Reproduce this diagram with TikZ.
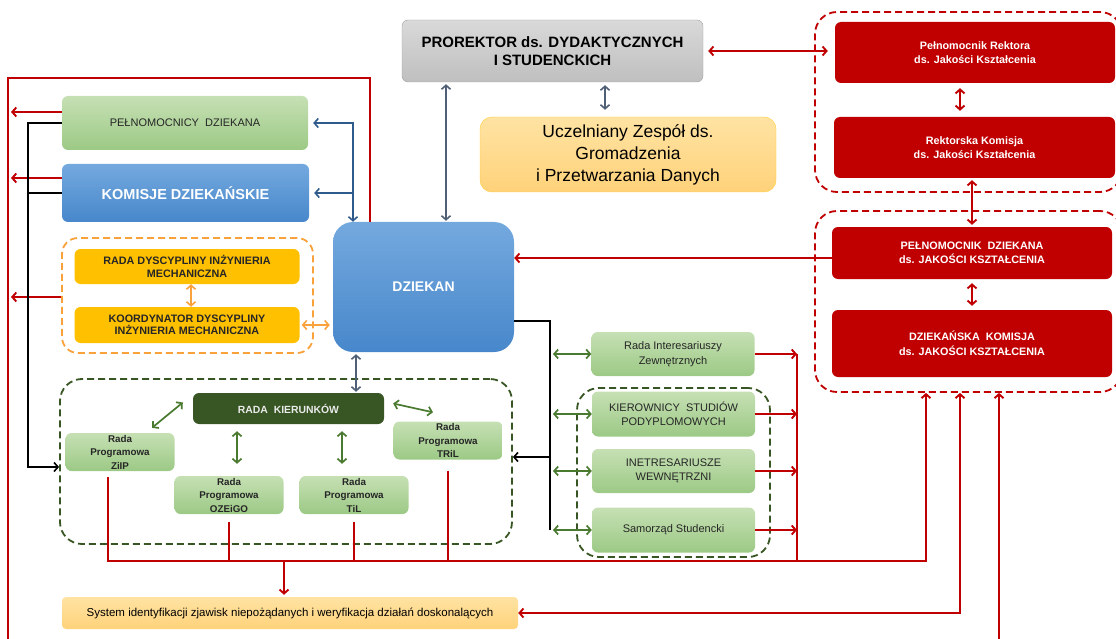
\documentclass[tikz,border=0pt]{standalone}
\usepackage{fontspec}
\setmainfont{Liberation Sans}
\usetikzlibrary{arrows.meta}

\definecolor{kred}{HTML}{C00000}
\definecolor{kblueT}{HTML}{74A9DE}
\definecolor{kblueB}{HTML}{4787CB}
\definecolor{kgreenT}{HTML}{C6E0B4}
\definecolor{kgreenB}{HTML}{9CC985}
\definecolor{kdgreen}{HTML}{375623}
\definecolor{kgrarr}{HTML}{4A7A30}
\definecolor{korange}{HTML}{FFC000}
\definecolor{kordash}{HTML}{F9A13A}
\definecolor{knavy}{HTML}{2E5B8C}
\definecolor{kslate}{HTML}{4F5F75}
\definecolor{kgrayT}{HTML}{D9D9D9}
\definecolor{kgrayB}{HTML}{BFBFBF}
\definecolor{kyelT}{HTML}{FFE3A3}
\definecolor{kyelB}{HTML}{FFD27A}

\tikzset{
  >={Straight Barb[length=4pt,width=9pt]},
  box/.style={rounded corners=6pt, align=center, inner sep=0pt},
  greenbox/.style={box, top color=kgreenT, bottom color=kgreenB, text=black!85},
  bluebox/.style={box, top color=kblueT, bottom color=kblueB, text=white},
  redbox/.style={box, fill=kred, text=white, font={\fontsize{10.8}{14.5}\selectfont\bfseries}},
  orbox/.style={box, fill=korange, text=black!85, font={\fontsize{10.8}{12.5}\selectfont\bfseries}},
  progbox/.style={greenbox, minimum width=109pt, minimum height=38pt, font={\fontsize{9.8}{13.5}\selectfont\bfseries}},
  sidebox/.style={greenbox, minimum width=163pt, minimum height=45pt, font={\fontsize{11}{14.5}\selectfont}},
  grp/.style={rounded corners=22pt, dash pattern=on 7pt off 4pt, line width=1.8pt},
  redln/.style={draw=kred, line width=1.9pt},
  blk/.style={draw=black, line width=1.6pt},
  grarr/.style={draw=kgrarr, line width=1.7pt},
  navy/.style={draw=knavy, line width=1.6pt},
  slate/.style={draw=kslate, line width=1.6pt},
  orarr/.style={draw=kordash, line width=1.6pt}
}

\begin{document}
\begin{tikzpicture}[x=1pt,y=-1pt]
\useasboundingbox (0,0) rectangle (1116,639);

\node[grp, draw=kred, minimum width=307pt, minimum height=180pt] (grpR) at (968.5,102) {};
\node[grp, draw=kred, minimum width=307pt, minimum height=181pt] (grpD) at (968.5,301.5) {};
\node[grp, draw=kordash, rounded corners=16pt, minimum width=251pt, minimum height=115pt] (grpO) at (187.5,295.5) {};
\node[grp, draw=kdgreen, minimum width=452pt, minimum height=165pt] (grpG) at (286,461.5) {};
\node[grp, draw=kdgreen, minimum width=193pt, minimum height=169pt] (grpS) at (673.5,472.5) {};

\node[box, top color=kgrayT, bottom color=kgrayB, draw=kgrayB!85!black, minimum width=301pt, minimum height=62pt,
  font={\fontsize{15}{18}\selectfont\bfseries}] (prorektor) at (552.5,51) {PROREKTOR ds. DYDAKTYCZNYCH\\I STUDENCKICH};
\node[box, top color=kyelT, bottom color=kyelB, draw=korange!80, rounded corners=12pt, minimum width=296pt, minimum height=75pt,
  font={\fontsize{17.5}{22}\selectfont}] (zespol) at (628,154.5) {Uczelniany Zespół ds.\\Gromadzenia\\i Przetwarzania Danych};

\node[redbox, minimum width=280pt, minimum height=61pt] (pelrek) at (975,52.5) {Pełnomocnik Rektora\\ds. Jakości Kształcenia};
\node[redbox, minimum width=281pt, minimum height=61pt] (rekkom) at (974.5,147.5) {Rektorska Komisja\\ds. Jakości Kształcenia};
\node[redbox, minimum width=280pt, minimum height=52pt] (pdz) at (972,253) {PEŁNOMOCNIK\ \ DZIEKANA\\ds. JAKOŚCI KSZTAŁCENIA};
\node[redbox, minimum width=280pt, minimum height=67pt] (dkom) at (972,343.5) {DZIEKAŃSKA\ \ KOMISJA\\ds. JAKOŚCI KSZTAŁCENIA};

\node[bluebox, rounded corners=20pt, minimum width=181pt, minimum height=130pt,
  font={\fontsize{14}{17}\selectfont\bfseries}] (dziekan) at (423.5,287) {DZIEKAN};
\node[greenbox, minimum width=246pt, minimum height=54pt, font={\fontsize{11}{13}\selectfont}] (peld) at (185,123) {PEŁNOMOCNICY\ \ DZIEKANA};
\node[bluebox, minimum width=247pt, minimum height=58pt, font={\fontsize{14.5}{17}\selectfont\bfseries}] (komisje) at (185.5,193) {KOMISJE DZIEKAŃSKIE};

\node[orbox, minimum width=225pt, minimum height=35pt] (rdim) at (187,266.5) {RADA DYSCYPLINY INŻYNIERIA\\MECHANICZNA};
\node[orbox, minimum width=225pt, minimum height=36pt] (koord) at (187,325) {KOORDYNATOR DYSCYPLINY\\INŻYNIERIA MECHANICZNA};

\node[box, fill=kdgreen, text=black!8, minimum width=191pt, minimum height=31pt,
  font={\fontsize{10.4}{12}\selectfont\bfseries}] (rkier) at (288.5,408.5) {RADA\ \ KIERUNKÓW};
\node[progbox] (zip) at (120,452) {Rada\\Programowa\\ZiIP};
\node[progbox] (ozeigo) at (229,495) {Rada\\Programowa\\OZEiGO};
\node[progbox] (til) at (354,495) {Rada\\Programowa\\TiL};
\node[progbox] (tril) at (448,440.5) {Rada\\Programowa\\TRiL};

\node[sidebox, minimum height=44pt] (riz) at (673,354) {Rada Interesariuszy\\Zewnętrznych};
\node[sidebox] (ksp) at (673.5,414) {KIEROWNICY\ \ STUDIÓW\\PODYPLOMOWYCH};
\node[sidebox, minimum height=44pt] (iw) at (673.5,471) {INETRESARIUSZE\\WEWNĘTRZNI};
\node[sidebox] (sam) at (673.5,530) {Samorząd Studencki};

\node[box, top color=kyelT, bottom color=kyelB, rounded corners=4pt, minimum width=456pt, minimum height=32pt,
  font={\fontsize{11.5}{13}\selectfont}] (system) at (290,613) {System identyfikacji zjawisk niepożądanych i weryfikacja działań doskonalących};

\coordinate (loopR) at (370,78);
\coordinate (loopL) at (8,78);
\coordinate (loopB) at (8,650);
\coordinate (loopE) at (999,650);
\coordinate (yPe) at (0,112);
\coordinate (yKo) at (0,178);
\coordinate (yOr) at (0,297);
\coordinate (yP) at (0,258);
\coordinate (ax) at (960,0);
\coordinate (bj) at (353,0);
\coordinate (pz) at (446,0);
\coordinate (zx) at (605,0);
\coordinate (kx) at (356,0);
\coordinate (bl) at (28,467);
\coordinate (bk) at (550,321);
\coordinate (bk2) at (550,457);
\coordinate (gx) at (553,0);
\coordinate (colX) at (797,0);
\coordinate (busE) at (926,561);
\coordinate (sysIn) at (284,561);
\coordinate (sysR) at (960,0);
\coordinate (oz) at (237,0);
\coordinate (tz) at (342,0);

\draw[redln,<->,shorten <=5pt,shorten >=7pt] (prorektor.east) -- (prorektor.east -| pelrek.west);
\draw[redln,<->,shorten <=5pt,shorten >=6pt] (pelrek.south -| ax) -- (rekkom.north -| ax);
\draw[redln,<->,shorten <=2pt,shorten >=2pt] (pdz.north |- rekkom.south) -- (pdz.north);
\draw[redln,<->,shorten <=4pt,shorten >=4pt] (pdz.south) -- (dkom.north);
\draw[redln,->] (pdz.west |- yP) -- (dziekan.east |- yP);

\draw[redln,->] (dziekan.north -| loopR) -- (loopR) -- (loopL) -- (loopB) -| (grpD.south -| loopE);
\draw[redln,->,shorten >=3pt] (peld.west |- yPe) -- (loopL |- yPe);
\draw[redln,->,shorten >=3pt] (komisje.west |- yKo) -- (loopL |- yKo);
\draw[redln,->,shorten >=3pt] (grpO.west |- yOr) -- (loopL |- yOr);

\draw[blk,->] (peld.west) -| (bl) -- (grpG.west |- bl);
\draw[blk] (komisje.west) -- (komisje.west -| bl);

\draw[navy,<->,shorten <=5pt] (peld.east) -- (peld.east -| bj) -- (dziekan.north -| bj);
\draw[navy,->,shorten >=5pt] (komisje.east -| bj) -- (komisje.east);

\draw[slate,<->,shorten <=2pt,shorten >=1pt] (prorektor.south -| pz) -- (dziekan.north -| pz);
\draw[slate,<->,shorten <=3pt,shorten >=7pt] (prorektor.south -| zx) -- (zespol.north -| zx);
\draw[slate,<->,shorten <=2pt,shorten >=1pt] (dziekan.south -| kx) -- (rkier.north -| kx);

\draw[orarr,<->] ([xshift=4pt]rdim.south) -- ([xshift=4pt]koord.north);
\draw[orarr,<->,shorten <=2pt,shorten >=3pt] (koord.east) -- (koord.east -| dziekan.west);

\draw[grarr,<->] ([xshift=-10pt,yshift=6pt]rkier.west) -- ([xshift=32pt,yshift=5pt]zip.north);
\draw[grarr,<->] ([xshift=9pt,yshift=5pt]rkier.east) -- ([xshift=-15pt,yshift=9pt]tril.north);
\draw[grarr,<->,shorten <=7pt,shorten >=12pt] (rkier.south -| oz) -- (ozeigo.north -| oz);
\draw[grarr,<->,shorten <=7pt,shorten >=12pt] (rkier.south -| tz) -- (til.north -| tz);

\draw[blk] (dziekan.east |- bk) -- (bk) -- (bk |- sam.west);
\draw[blk,->] (bk2) -- (grpG.east |- bk2);
\foreach \b in {riz,ksp,iw,sam}
  \draw[grarr,<->] (\b.west -| gx) -- (\b.west);

\draw[redln,->] (zip.south) ++(-12,6) |- (busE) -- (grpD.south -| busE);
\draw[redln] (ozeigo.south) ++(0,8) -- (ozeigo.south |- busE);
\draw[redln] (til.south) ++(0,8) -- (til.south |- busE);
\draw[redln] (tril.south) ++(0,11) -- (tril.south |- busE);
\draw[redln,->,shorten >=2pt] (sysIn) -- (system.north -| sysIn);
\draw[redln] (riz.east -| colX) -- (colX |- busE);
\foreach \b in {riz,ksp,iw,sam}
  \draw[redln,->] (\b.east) -- (\b.east -| colX);
\draw[redln,<->] (system.east) -- (system.east -| sysR) -- (grpD.south -| sysR);
\end{tikzpicture}
\end{document}
